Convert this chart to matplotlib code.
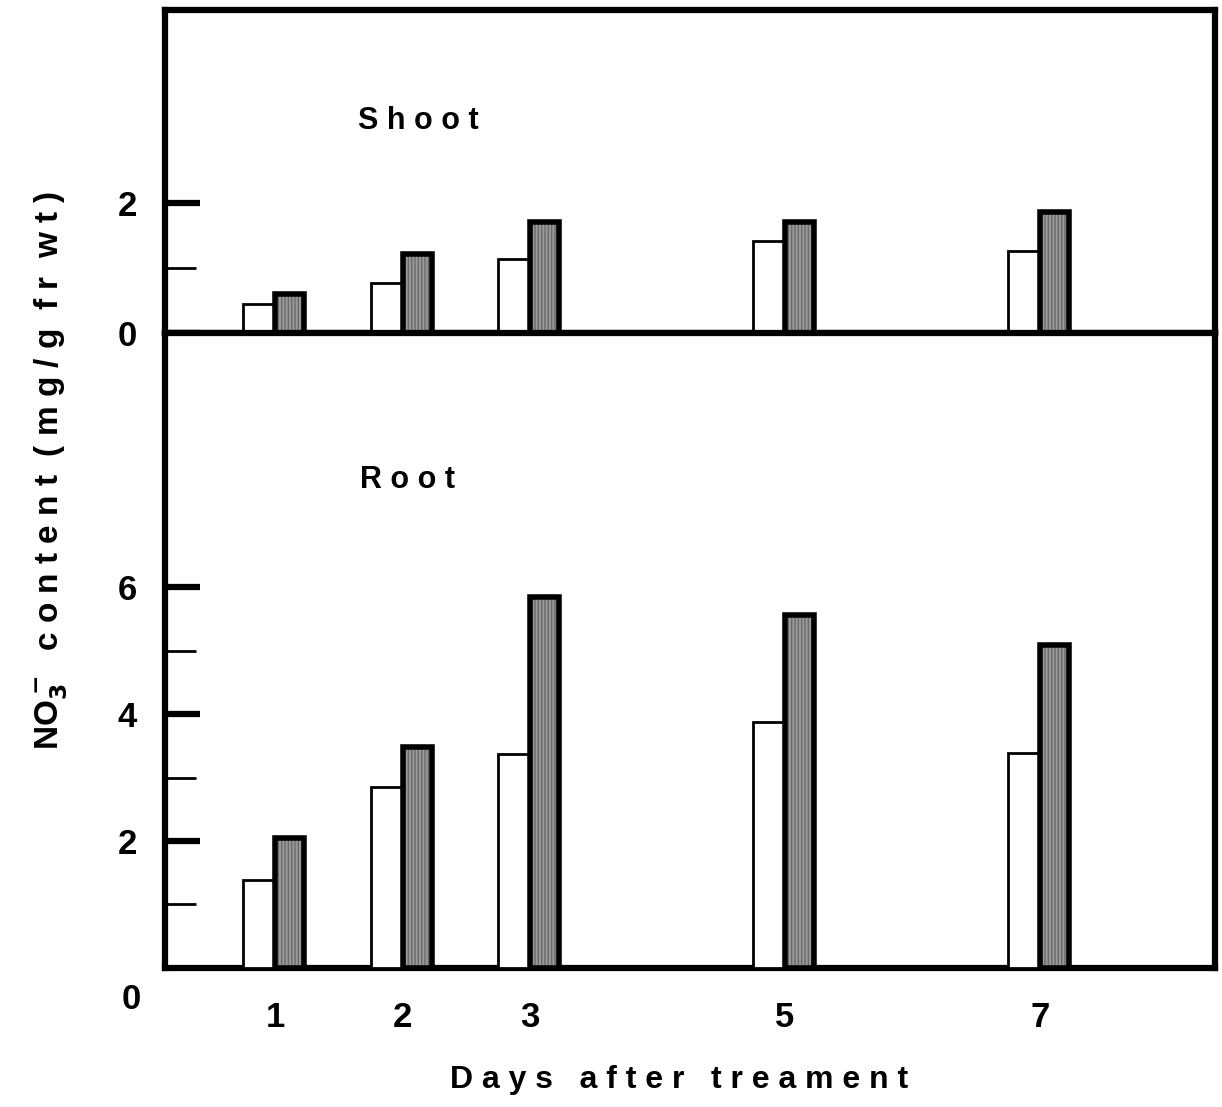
import numpy as np
import matplotlib
matplotlib.use("Agg")
import matplotlib.pyplot as plt
from matplotlib.ticker import MultipleLocator

plt.rcParams['font.family'] = ['Liberation Sans', 'DejaVu Sans']
plt.rcParams['font.weight'] = 'bold'
plt.rcParams['mathtext.default'] = 'bf'

# data
days = [1, 2, 3, 5, 7]
day_labels = ['1', '2', '3', '5', '7']
shoot_control = [0.45, 0.77, 1.14, 1.41, 1.26]
shoot_treated = [0.60, 1.21, 1.70, 1.71, 1.85]
root_control = [1.39, 2.85, 3.37, 3.87, 3.39]
root_treated = [2.05, 3.48, 5.84, 5.56, 5.09]

W = 0.25
fig = plt.figure(figsize=(12.22, 11.07), dpi=100)
ax_top = fig.add_axes([0.135, 0.699, 0.859, 0.292])
ax_bot = fig.add_axes([0.135, 0.1256, 0.859, 0.5734], sharex=ax_top)


def draw_pairs(ax, ctrl, trt):
    x = np.array(days, dtype=float)
    ax.bar(x, ctrl, width=-W, align='edge', facecolor='white',
           edgecolor='black', linewidth=2.0, zorder=3)
    # hatched gray fill, then heavy outline
    ax.bar(x, trt, width=W * 0.92, align='edge', facecolor='#9a9a9a',
           edgecolor='#6a6a6a', hatch='|||||', linewidth=0, zorder=3)
    ax.bar(x, trt, width=W * 0.92, align='edge', facecolor='none',
           edgecolor='black', linewidth=4.0, zorder=4)


draw_pairs(ax_top, shoot_control, shoot_treated)
draw_pairs(ax_bot, root_control, root_treated)

for ax in (ax_top, ax_bot):
    for s in ax.spines.values():
        s.set_linewidth(4.5)
    ax.tick_params(axis='y', which='major', direction='in', length=25, width=4.5,
                   labelsize=25, pad=20)
    ax.tick_params(axis='y', which='minor', direction='in', length=22, width=2)
    ax.tick_params(axis='x', length=0)
    ax.yaxis.set_major_locator(MultipleLocator(2))
    ax.yaxis.set_minor_locator(MultipleLocator(1))

ax_top.set_xlim(0.137, 8.37)
ax_top.set_ylim(0, 4.95)
ax_top.set_yticks([0, 2])
ax_top.set_yticks([1], minor=True)
ax_top.tick_params(axis='x', labelbottom=False)

ax_bot.set_ylim(0, 10.0)
ax_bot.set_yticks([2, 4, 6])
ax_bot.set_yticks([1, 3, 5], minor=True)
ax_bot.set_xticks(days)
ax_bot.set_xticklabels(day_labels)
ax_bot.tick_params(axis='x', labelsize=25, pad=24)

ax_top.text(0.184, 0.655, 'S h o o t', transform=ax_top.transAxes, fontsize=22,
            va='center')
ax_bot.text(0.186, 0.768, 'R o o t', transform=ax_bot.transAxes, fontsize=22,
            va='center')

fig.text(0.107, 0.097, '0', fontsize=25, ha='center', va='center')
fig.text(0.556, 0.024, 'D a y s   a f t e r   t r e a m e n t', fontsize=23,
         ha='center', va='center')
fig.text(0.042, 0.575, r'NO$_3^{\bf -}$  c o n t e n t  ( m g / g  f r  w t )',
         fontsize=24, rotation=90, ha='center', va='center')

fig.savefig('out.png', dpi=100)
